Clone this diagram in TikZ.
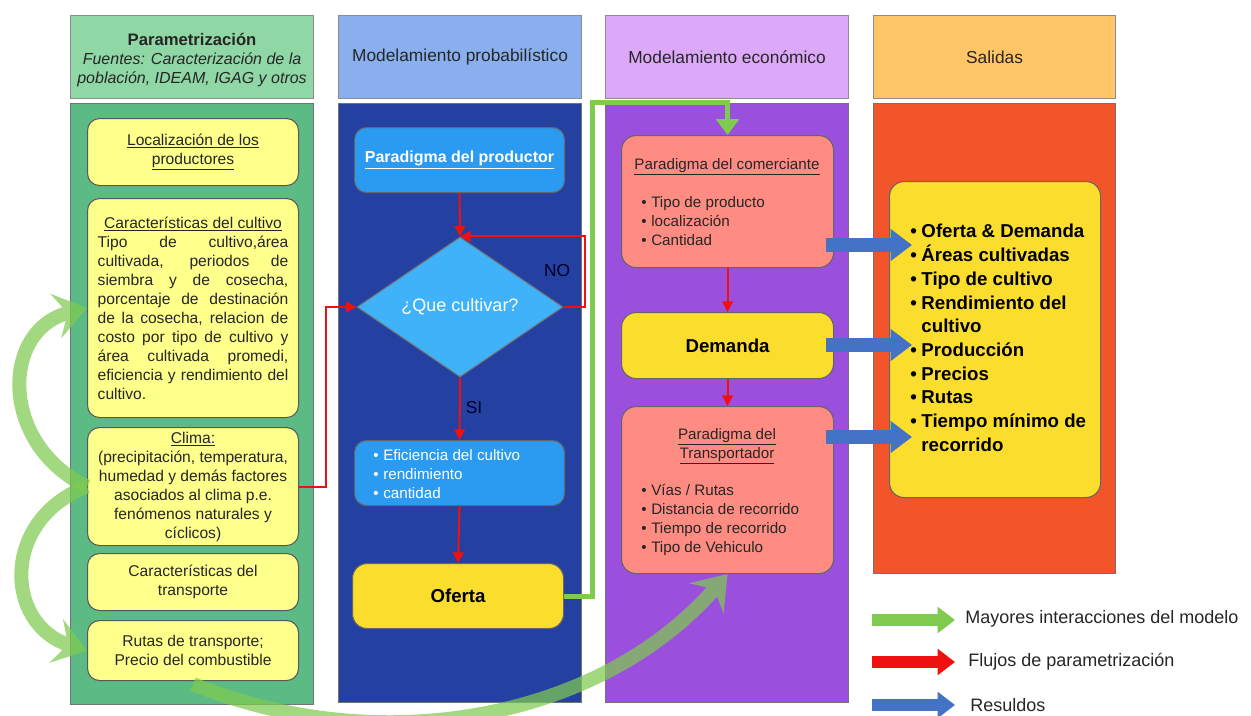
\documentclass[tikz,border=0pt]{standalone}
\usepackage{fontspec}
\setmainfont{Liberation Sans}
\usetikzlibrary{arrows.meta,shapes.geometric,calc}
\definecolor{hgreen}{HTML}{8FD7A5}
\definecolor{bgreen}{HTML}{5CBA85}
\definecolor{pyellow}{HTML}{FFFF8C}
\definecolor{hblue}{HTML}{8AAFEF}
\definecolor{bblue}{HTML}{2441A1}
\definecolor{mblue}{HTML}{2A9BF0}
\definecolor{dblue}{HTML}{40B2FA}
\definecolor{hpurple}{HTML}{DCA9F8}
\definecolor{bpurple}{HTML}{9A50DD}
\definecolor{salmon}{HTML}{FF8C82}
\definecolor{gold}{HTML}{FBDD2D}
\definecolor{horange}{HTML}{FFC566}
\definecolor{borange}{HTML}{F25529}
\definecolor{garrow}{HTML}{7FCB50}
\definecolor{rarrow}{HTML}{F01010}
\definecolor{barrow}{HTML}{4472C4}
\definecolor{txt}{HTML}{262626}
\newlength\cw \setlength\cw{143pt}
\newcommand\bl[1]{\makebox[\cw][s]{#1}}
\newcommand\ul[1]{\underline{#1}}
\newcommand\bul{\textbullet\hspace{3.5pt}}
\begin{document}
\begin{tikzpicture}[x=0.75pt,y=-0.75pt,
  sz/.style 2 args={minimum width=#1*0.75pt, minimum height=#2*0.75pt, anchor=north west},
  hdr/.style={draw=black!45, line width=0.8pt, inner sep=0pt, align=center, text=txt,
    font=\fontsize{13}{14.25}\selectfont},
  colbody/.style={draw=black!55, line width=0.8pt, inner sep=0pt},
  ybox/.style={draw=black!65, fill=pyellow, rounded corners=9pt, line width=0.8pt,
    inner sep=0pt, align=center, text=txt, font=\fontsize{11.7}{14.25}\selectfont},
  bbox/.style={draw=black!60, fill=mblue, rounded corners=9pt, line width=0.8pt,
    inner sep=0pt, align=left, text=white, font=\fontsize{11.4}{14.25}\selectfont},
  sbox/.style={draw=black!60, fill=salmon, rounded corners=11pt, line width=0.8pt,
    inner sep=0pt, align=left, text=txt, font=\fontsize{11.4}{14.25}\selectfont},
  gbox/.style={draw=black!60, fill=gold, rounded corners=11pt, line width=0.8pt,
    inner sep=0pt, align=center, text=black, font=\bfseries\fontsize{14}{16}\selectfont},
  redarr/.style={draw=rarrow, line width=1.5pt, -{Triangle[length=8pt,width=8pt]}},
  greenconn/.style={draw=garrow, line width=3.75pt, -{Triangle[length=12pt,width=17pt]}},
  bluearr/.style={draw=barrow, line width=10.5pt, -{Triangle[length=16pt,width=23pt]}},
  legarr/.style={line width=9.5pt, -{Triangle[length=13pt,width=19pt]}},
  bigarc/.style={draw=garrow, line width=10.5pt, -{Stealth[length=24pt,width=34pt,inset=9pt]}},
  legtxt/.style={anchor=west, inner sep=0pt, text=txt, font=\fontsize{13.5}{15}\selectfont},
  lbl/.style={text=black!85!blue, font=\fontsize{13}{15}\selectfont, inner sep=0pt}
]
\useasboundingbox (0,0) rectangle (1251,715);
\clip (0,0) rectangle (1251,715);
\fill[white] (0,0) rectangle (1251,715);

% headers
\node[hdr, fill=hgreen, sz={243}{83}] (h1) at (70,15) {};
\node[align=center, text=txt, inner sep=0pt, font=\fontsize{12}{14.25}\selectfont] (h1t) at ([yshift=-2pt]h1.center)
  {\textbf{\fontsize{12.5}{14.25}\selectfont Parametrización}\\
   \textit{Fuentes: Caracterización de la}\\
   \textit{población, IDEAM, IGAG y otros}};
\node[hdr, fill=hblue, sz={243}{83}] (h2) at (338,15) {Modelamiento probabilístico};
\node[hdr, fill=hpurple, sz={243}{83}] (h3) at (605,15) {Modelamiento económico};
\node[hdr, fill=horange, sz={242}{83}] (h4) at (873,15) {Salidas};

% column bodies
\node[colbody, fill=bgreen, sz={243}{601}] (c1) at (70,103) {};
\node[colbody, fill=bblue, sz={243}{599}] (c2) at (338,103) {};
\node[colbody, fill=bpurple, sz={243}{599}] (c3) at (605,103) {};
\node[colbody, fill=borange, sz={242}{470}] (c4) at (873,103) {};

% column 1
\node[ybox, sz={211}{67}] (loc) at (87,118) {\ul{Localización de los}\\\ul{productores}};
\node[ybox, sz={211}{219}] (car) at (87,198) {\ul{Características del cultivo}\\
  \bl{Tipo de cultivo,área}\\ \bl{cultivada, periodos de}\\ \bl{siembra y de cosecha,}\\
  \bl{porcentaje de destinación}\\ \bl{de la cosecha, relacion de}\\
  \bl{costo por tipo de cultivo y}\\ \bl{área cultivada promedi,}\\
  \bl{eficiencia y rendimiento del}\\ \makebox[\cw][l]{cultivo.}};
\node[ybox, sz={211}{118}] (cli) at (87,427) {\ul{Clima:}\\(precipitación, temperatura,\\humedad y demás factores\\asociados al clima p.e.\\fenómenos naturales y\\cíclicos)};
\node[ybox, sz={211}{57}] (tra) at (87,553) {Características del\\transporte};
\node[ybox, sz={211}{60}] (rut) at (87,620) {Rutas de transporte;\\Precio del combustible};

% column 2
\node[bbox, sz={210}{65}, align=center,
  font=\bfseries\fontsize{12}{14}\selectfont] (pro) at (354,127) {\ul{Paradigma del productor}};
\node[diamond, draw=black!55, fill=dblue, line width=0.8pt, inner sep=0pt,
  minimum width=206*0.75pt, minimum height=140*0.75pt, text=white,
  font=\fontsize{13.5}{15}\selectfont] (dia) at (460,307) {¿Que cultivar?};
\node[bbox, sz={210}{65}] (efi) at (354,440) {};
\node[anchor=north west, inner sep=0pt, align=left, text=white,
  font=\fontsize{11.4}{14.25}\selectfont] (efit) at (373,449)
  {\bul Eficiencia del cultivo\\\bul rendimiento\\\bul cantidad};
\node[gbox, sz={211}{65}] (ofe) at (352,563) {Oferta};
\node[lbl] (no) at (557,271) {NO};
\node[lbl] (si) at (474,408) {SI};

% column 3
\node[sbox, sz={212}{132}] (com) at (621,135) {};
\node[anchor=north, inner sep=0pt, text=txt, font=\fontsize{11.4}{14.25}\selectfont] (comt)
  at (727,158) {\ul{Paradigma del comerciante}};
\node[anchor=north west, inner sep=0pt, align=left, text=txt,
  font=\fontsize{11.4}{14.25}\selectfont] (comb) at (641,196)
  {\bul Tipo de producto\\\bul localización\\\bul Cantidad};
\node[gbox, sz={212}{66}] (dem) at (621,312) {Demanda};
\node[sbox, sz={212}{167}] (trn) at (621,406) {};
\node[anchor=north, inner sep=0pt, align=center, text=txt,
  font=\fontsize{11.4}{14.25}\selectfont] (trnt) at (727,428)
  {\ul{Paradigma del}\\\ul{Transportador}};
\node[anchor=north west, inner sep=0pt, align=left, text=txt,
  font=\fontsize{11.4}{14.25}\selectfont] (trnb) at (641,484)
  {\bul Vías / Rutas\\\bul Distancia de recorrido\\\bul Tiempo de recorrido\\\bul Tipo de Vehiculo};

% column 4
\node[gbox, sz={211}{316}] (out) at (889,181) {};
\node[anchor=north west, inner sep=0pt, align=left, text=black,
  font=\bfseries\fontsize{14}{17.8}\selectfont] (outt) at (910,224)
  {\bul Oferta \& Demanda\\\bul Áreas cultivadas\\\bul Tipo de cultivo\\
   \bul Rendimiento del\\\phantom{\bul}cultivo\\\bul Producción\\
   \bul Precios\\\bul Rutas\\\bul Tiempo mínimo de\\\phantom{\bul}recorrido};

% red arrows
\draw[redarr] (pro.south) -- (dia.north);
\draw[redarr] (dia.east) -- ++(21,0) |- (dia.north);
\draw[redarr] (cli.east) -- ++(27,0) |- (dia.west);
\draw[redarr] (dia.south) -- (efi.north);
\draw[redarr] (efi.south) -- (ofe.north);
\draw[redarr] (com.south) -- (dem.north);
\draw[redarr] (dem.south) -- (trn.north);

% green connector
\coordinate (g1) at (592,102);
\draw[greenconn] (ofe.east) -| (g1) -| (com.north);

% blue arrows
\draw[bluearr] ($(com.east |- 0,245)+(-8,0)$) -- ($(out.west |- 0,245)+(23,0)$);
\draw[bluearr] ($(dem.east |- 0,345)+(-8,0)$) -- ($(out.west |- 0,345)+(23,0)$);
\draw[bluearr] ($(trn.east |- 0,437)+(-8,0)$) -- ($(out.west |- 0,437)+(23,0)$);

% legend
\node[legtxt] (leg1) at (965,619) {Mayores interacciones del modelo};
\node[legtxt] (leg2) at (968,662) {Flujos de parametrización};
\node[legtxt] (leg3) at (970,705) {Resuldos};
\coordinate (l1) at (872,620);
\coordinate (l2) at (872,662);
\coordinate (l3) at (872,705);
\draw[legarr, draw=garrow] (l1) -- ($(leg1.west |- l1)+(-10,0)$);
\draw[legarr, draw=rarrow] (l2) -- ($(leg2.west |- l2)+(-13,0)$);
\draw[legarr, draw=barrow] (l3) -- ($(leg3.west |- l3)+(-15,0)$);

% big translucent arcs
\begin{scope}[transparency group, opacity=0.72]
\draw[bigarc] (cli.west) .. controls (0,445) and (0,330) .. (car.west);
\end{scope}
\begin{scope}[transparency group, opacity=0.72]
\draw[bigarc] (cli.west) .. controls (0,520) and (5,625) .. (rut.west);
\end{scope}
\begin{scope}[transparency group, opacity=0.72]
\draw[bigarc] ([yshift=-3*0.75pt]rut.south) .. controls (380,760) and (600,720) .. (trn.south);
\end{scope}
\end{tikzpicture}
\end{document}
